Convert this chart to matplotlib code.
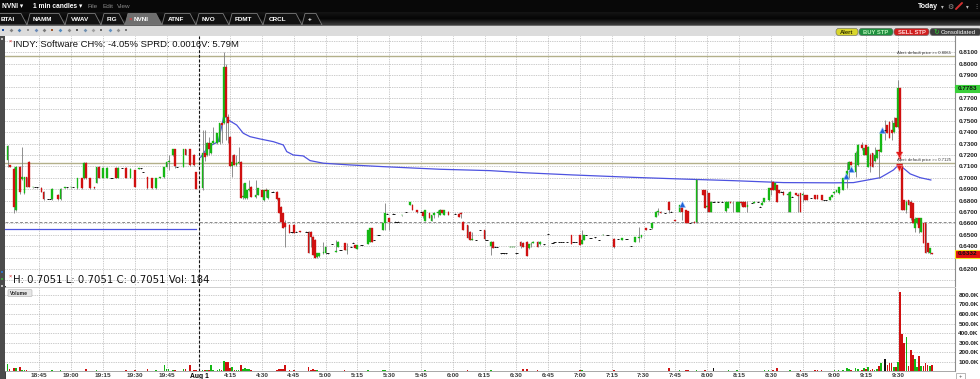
import numpy as np
import matplotlib
matplotlib.use("Agg")
import matplotlib.pyplot as plt
from matplotlib.patches import Rectangle, FancyBboxPatch, Polygon
from matplotlib.colors import LinearSegmentedColormap
import matplotlib.transforms as mtrans

# ============ DATA (1-minute candles, index = minute slot on the chart) ============
# previous-day after-hours 18:30-20:00  (slots 0..89)
PRE_T = [0,1,3,4,6,7,8,9,10, 12,13,14,16,17,19,20,21,24,25, 27,28,30,31,33,35,36,37,39,41,
         42,43,45,47,49,51,52,54,56,58, 60,62,63,64,66,68,70,72,74,75, 76,78,79,80,83,84,86,88,89]
PRE_O = [.7155,.7110,.7080,.6717,.7094,.6990,.6865,.7006,.7138,
         .6915,.6918,.6918,.6910,.6875,.6813,.6813,.6810,.6850,.6810,
         .6912,.6918,.6915,.6918,.6910,.6997,.6997,.7129,.6997,.6918,
         .6954,.7094,.6997,.6997,.6997,.7088,.6997,.7085,.7085,.7000,
         .7067,.7080,.7082,.7050,.7005,.6997,.6910,.6997,.7006,.7094,
         .7138,.7199,.7250,.7094,.7094,.7252,.7252,.7199,.7048]
PRE_H = [.7290,.7115,.7094,.7100,.7100,.7270,.7010,.7010,.7145,
         .6920,.6922,.6920,.6915,.6880,.6815,.6815,.6910,.6855,.6910,
         .6920,.6920,.6920,.6920,.7000,.7000,.7135,.7135,.7000,.6920,
         .7094,.7100,.7090,.7090,.7000,.7090,.7090,.7088,.7090,.7088,
         .7070,.7085,.7085,.7052,.7010,.7000,.6997,.7010,.7094,.7140,
         .7200,.7255,.7255,.7097,.7255,.7255,.7255,.7205,.7052]
PRE_L = [.7097,.7090,.6690,.6710,.6860,.6980,.6860,.6918,.6915,
         .6912,.6915,.6913,.6872,.6805,.6810,.6810,.6805,.6805,.6805,
         .6910,.6912,.6912,.6915,.6905,.6905,.6990,.6990,.6905,.6905,
         .6950,.6995,.6995,.6995,.6995,.6997,.6995,.7082,.6997,.6995,
         .6915,.7078,.7080,.7048,.6905,.6905,.6905,.6995,.7000,.7090,
         .7067,.7190,.7085,.7090,.7090,.7195,.7105,.7105,.6900]
PRE_C = [.7280,.7095,.6740,.7094,.6874,.7005,.7006,.6918,.6918,
         .6920,.6918,.6918,.6875,.6810,.6813,.6813,.6905,.6810,.6905,
         .6918,.6918,.6918,.6918,.6997,.6910,.7129,.6997,.6910,.6908,
         .7094,.6997,.7085,.7088,.6997,.7000,.7085,.7085,.7000,.7080,
         .6918,.7082,.7082,.7050,.6908,.6910,.6997,.7008,.7094,.7138,
         .7150,.7252,.7100,.7094,.7252,.7199,.7111,.7111,.6905]
PRE_V = [72,25,30,30,47,15,10,8,6,
         3,2,2,4,3,2,2,12,5,12,
         2,2,2,2,5,4,6,18,4,3,
         8,5,4,6,2,4,5,2,12,4,
         8,2,2,2,28,6,8,5,68,22,
         18,15,8,3,28,20,65,8,10]

# Aug 1, 4:00-6:00
AM_T = [92,93,94,95,96,97, 99,100,101,102,103,104,105,106,107,108,
        109,110,111,112,113,114,115,117,118,120, 121,122,123,125,127,128,129,130,131,133,
        134,135,136,138,141,142,143,144,145,146, 147,149,150,151,153,155,156,157,159,160]
AM_O = [.6907,.7214,.7200,.7302,.7214,.7302, .7302,.7310,.7477,.7477,.7974,.7535,.7360,.7100,.7200,.7112,
        .7127,.7141,.6830,.6820,.6820,.6893,.6922,.6834,.6849,.6893, .6805,.6893,.6820,.6878,.6878,.6820,.6746,.6688,.6600,.6585,
        .6520,.6585,.6527,.6530,.6527,.6527,.6527,.6483,.6453,.6307, .6310,.6336,.6336,.6336,.6419,.6351,.6394,.6366,.6425,.6366]
AM_H = [.7419,.7419,.7310,.7360,.7305,.7448, .7395,.7477,.7480,.8106,.8000,.7560,.7370,.7200,.7205,.7200,
        .7273,.7145,.6951,.6951,.6895,.6980,.6925,.6980,.6910,.6895, .6893,.6907,.6893,.6880,.6880,.6825,.6750,.6690,.6630,.6590,
        .6522,.6590,.6530,.6535,.6530,.6530,.6530,.6490,.6460,.6340, .6340,.6439,.6398,.6338,.6421,.6453,.6442,.6368,.6430,.6430]
AM_L = [.6893,.7150,.7190,.7200,.7210,.7300, .7300,.7300,.7302,.7470,.7331,.7302,.7097,.7009,.7110,.7105,
        .7120,.6820,.6815,.6815,.6815,.6880,.6834,.6820,.6845,.6834, .6800,.6834,.6815,.6875,.6805,.6688,.6615,.6556,.6394,.6512,
        .6518,.6512,.6525,.6520,.6525,.6336,.6394,.6321,.6292,.6300, .6305,.6330,.6330,.6334,.6417,.6345,.6390,.6364,.6366,.6330]
AM_C = [.7214,.7180,.7302,.7250,.7302,.7320, .7390,.7477,.7460,.7974,.7535,.7480,.7100,.7141,.7112,.7127,
        .7135,.6820,.6840,.6951,.6893,.6900,.6834,.6850,.6907,.6834, .6893,.6880,.6893,.6878,.6810,.6688,.6615,.6556,.6570,.6512,
        .6520,.6515,.6527,.6522,.6527,.6336,.6480,.6321,.6292,.6336, .6336,.6345,.6394,.6336,.6419,.6360,.6439,.6366,.6366,.6370]
AM_V = [15,10,15,12,65,15, 12,20,15,104,93,93,30,45,12,8,
        10,68,25,30,22,25,8,5,6,5, 6,4,5,2,10,20,18,20,68,15,
        3,10,3,5,3,47,15,20,12,10, 6,5,6,2,2,4,5,2,8,4]

# 6:00-8:30
MID_T = [162,163,164,165,167,170,171,172,173,175, 177,178,179,180,182,183,184,186,188,190,
         191,193,195,196,197,199,200,201,203,204, 205,206,208,211,213,214,215,217,218,219,
         221,223,225,226,228,229,230,231,233,234, 235,237,238,239,240,242,243,245,246,247,
         248,250,251,253,255,257,258,260,261,262, 264,266,267,268,270,271,272,273,275,277,
         279,281,283,286,288,290,292,294,296,298, 299,301,303,304,306,307,308,310,312,313, 315]
MID_O = [.6395,.6430,.6410,.6375,.6410,.6420,.6439,.6556,.6454,.6495,
         .6542,.6600,.6685,.6644,.6685,.6614,.6614,.6670,.6697,.6764,
         .6764,.6717,.6702,.6702,.6624,.6688,.6624,.6673,.6690,.6673,
         .6717,.6673,.6702,.6685,.6685,.6690,.6614,.6585,.6527,.6454,
         .6454,.6542,.6542,.6454,.6400,.6439,.6395,.6392,.6337,.6337,
         .6337,.6392,.6393,.6393,.6337,.6439,.6430,.6439,.6381,.6416,
         .6428,.6439,.6416,.6416,.6504,.6425,.6436,.6436,.6436,.6436,
         .6436,.6498,.6436,.6436,.6498,.6420,.6454,.6498,.6469,.6477,
         .6454,.6495,.6498,.6460,.6460,.6454,.6460,.6400,.6439,.6470,
         .6477,.6556,.6550,.6556,.6658,.6700,.6702,.6688,.6790,.6702, .6629]
MID_H = [.6397,.6432,.6412,.6412,.6412,.6545,.6556,.6560,.6456,.6497,
         .6603,.6776,.6687,.6646,.6687,.6616,.6616,.6675,.6699,.6790,
         .6766,.6720,.6704,.6705,.6720,.6690,.6676,.6702,.6717,.6722,
         .6720,.6720,.6705,.6687,.6688,.6700,.6617,.6588,.6530,.6527,
         .6456,.6544,.6545,.6456,.6442,.6442,.6397,.6394,.6339,.6339,
         .6339,.6397,.6397,.6397,.6339,.6442,.6432,.6442,.6418,.6439,
         .6441,.6441,.6441,.6418,.6506,.6427,.6438,.6438,.6438,.6438,
         .6438,.6500,.6438,.6438,.6500,.6542,.6500,.6500,.6471,.6479,
         .6456,.6502,.6500,.6469,.6462,.6471,.6462,.6402,.6480,.6571,
         .6500,.6558,.6552,.6603,.6705,.6732,.6705,.6690,.6796,.6704, .6631]
MID_L = [.6393,.6428,.6381,.6372,.6408,.6415,.6435,.6439,.6452,.6493,
         .6540,.6542,.6683,.6542,.6683,.6612,.6612,.6668,.6695,.6760,
         .6717,.6688,.6700,.6644,.6620,.6644,.6620,.6644,.6658,.6670,
         .6688,.6670,.6673,.6683,.6658,.6644,.6542,.6469,.6454,.6450,
         .6452,.6540,.6454,.6452,.6322,.6381,.6393,.6390,.6335,.6335,
         .6335,.6390,.6390,.6390,.6335,.6381,.6395,.6313,.6378,.6395,
         .6425,.6395,.6414,.6414,.6502,.6423,.6434,.6434,.6434,.6434,
         .6434,.6422,.6434,.6434,.6410,.6415,.6452,.6496,.6467,.6475,
         .6452,.6493,.6496,.6381,.6458,.6452,.6458,.6398,.6437,.6439,
         .6475,.6545,.6548,.6554,.6655,.6673,.6688,.6686,.6690,.6700, .6620]
MID_C = [.6395,.6430,.6381,.6410,.6410,.6542,.6556,.6439,.6454,.6495,
         .6600,.6688,.6685,.6614,.6685,.6614,.6614,.6673,.6697,.6785,
         .6717,.6700,.6702,.6660,.6717,.6644,.6673,.6690,.6700,.6720,
         .6688,.6717,.6673,.6685,.6658,.6680,.6542,.6469,.6454,.6460,
         .6454,.6542,.6460,.6454,.6439,.6381,.6395,.6392,.6337,.6337,
         .6337,.6395,.6395,.6395,.6337,.6400,.6395,.6313,.6416,.6420,
         .6439,.6395,.6439,.6416,.6504,.6425,.6436,.6436,.6436,.6436,
         .6436,.6422,.6436,.6436,.6410,.6450,.6498,.6498,.6469,.6477,
         .6454,.6500,.6498,.6395,.6460,.6469,.6460,.6400,.6477,.6480,
         .6498,.6545,.6550,.6600,.6702,.6710,.6688,.6688,.6717,.6702, .6620]
MID_V = [2,2,4,4,2,8,6,6,2,2, 15,10,2,5,2,2,2,3,2,5, 6,3,2,3,8,4,5,3,3,4,
         4,4,3,2,3,3,6,8,6,3, 2,2,3,2,8,4,2,2,2,2, 2,2,2,2,2,5,20,20,5,3,
         3,10,4,2,2,2,2,2,2,2, 2,5,2,2,10,8,4,2,2,2, 2,3,2,15,2,3,2,2,4,5,
         4,3,2,5,6,4,4,2,30,3, 5]

# 8:30-9:47
LATE_T = [317,318,320,321,322,324,325,328,329,330, 331,332,333,335,337,339,340,341,342,344,
          345,346,347,348,349,351,352,354,355,356, 357,359,360,361,362,363,364,365,366,368,
          369,370,372,373,374,375,376,377,379,381, 382,384,385,386,388,389,390,391,392,394,
          396,397,398,400,401,403,404,405,406,407, 408,409,410,411,412,414,415,416,417,418,
          419,420,421,422,423,424,425,426,427,428, 429,430,431,432,433,434,435,436]
LATE_O = [.6702,.6761,.6717,.6705,.6605,.6614,.6614,.6893,.6893,.6740,
          .6863,.6702,.6790,.6790,.6790,.6705,.6732,.6790,.6775,.6702,
          .6702,.6790,.6790,.6790,.6746,.6776,.6776,.6790,.6746,.6761,
          .6790,.6805,.6907,.6965,.6893,.6936,.6893,.6878,.6878,.6850,
          .6702,.6834,.6863,.6850,.6863,.6849,.6849,.6849,.6820,.6849,
          .6849,.6849,.6805,.6805,.6805,.6834,.6863,.6878,.6863,.6893,
          .6995,.7067,.7141,.7053,.7112,.7287,.7199,.7287,.7097,.7200,
          .7214,.7150,.7170,.7243,.7229,.7420,.7462,.7492,.7420,.7400,
          .7521,.7448,.7785,.7100,.6805,.6717,.6805,.6790,.6776,.6560,
          .6600,.6644,.6527,.6600,.6600,.6425,.6337,.6340]
LATE_H = [.6763,.6770,.6720,.6710,.6607,.6616,.6985,.6895,.6895,.6893,
          .6865,.6792,.6792,.6792,.6792,.6792,.6792,.6792,.6792,.6792,
          .6792,.6792,.6792,.6792,.6792,.6778,.6792,.6792,.6748,.6792,
          .6822,.6910,.6980,.6968,.6952,.6940,.6895,.6880,.6880,.6878,
          .6880,.6836,.6865,.6863,.6865,.6878,.6851,.6851,.6822,.6851,
          .6851,.6851,.6807,.6807,.6836,.6851,.6880,.6895,.6918,.6998,
          .7141,.7145,.7145,.7230,.7300,.7310,.7260,.7290,.7275,.7214,
          .7216,.7273,.7245,.7250,.7406,.7506,.7465,.7495,.7506,.7535,
          .7525,.7857,.7790,.7127,.6808,.6805,.6808,.6805,.6780,.6658,
          .6646,.6650,.6646,.6605,.6605,.6430,.6383,.6342]
LATE_L = [.6700,.6629,.6600,.6600,.6603,.6600,.6600,.6849,.6732,.6702,
          .6702,.6700,.6788,.6788,.6788,.6700,.6730,.6775,.6702,.6700,
          .6700,.6761,.6746,.6746,.6702,.6774,.6774,.6788,.6744,.6760,
          .6788,.6800,.6849,.6893,.6890,.6790,.6863,.6876,.6849,.6702,
          .6700,.6832,.6849,.6702,.6702,.6790,.6805,.6805,.6818,.6812,
          .6812,.6805,.6803,.6803,.6803,.6832,.6860,.6876,.6860,.6890,
          .6907,.7000,.7112,.7009,.7105,.7240,.7195,.7199,.7095,.7053,
          .7097,.7141,.7168,.6995,.7225,.7331,.7390,.7346,.7331,.7390,
          .7448,.7440,.7150,.6717,.6717,.6688,.6761,.6629,.6600,.6527,
          .6598,.6512,.6525,.6425,.6337,.6337,.6335,.6330]
LATE_C = [.6761,.6700,.6600,.6600,.6605,.6600,.6980,.6849,.6732,.6750,
          .6702,.6790,.6790,.6790,.6790,.6790,.6790,.6775,.6780,.6790,
          .6790,.6775,.6746,.6746,.6760,.6776,.6790,.6790,.6746,.6775,
          .6820,.6907,.6890,.6893,.6950,.6790,.6863,.6878,.6849,.6860,
          .6878,.6834,.6849,.6840,.6702,.6860,.6805,.6805,.6820,.6812,
          .6812,.6805,.6805,.6805,.6834,.6849,.6878,.6893,.6916,.6995,
          .7060,.7141,.7112,.7214,.7287,.7260,.7258,.7199,.7273,.7100,
          .7097,.7200,.7243,.7230,.7404,.7420,.7390,.7346,.7390,.7480,
          .7448,.7785,.7160,.6720,.6717,.6790,.6761,.6650,.6600,.6640,
          .6644,.6560,.6644,.6425,.6337,.6350,.6381,.6332]
LATE_V = [8,6,10,12,3,5,10,6,8,5, 6,5,37,3,2,6,15,5,3,8, 6,3,5,5,3,2,3,2,2,3,
          15,15,5,8,6,37,5,2,5,4, 8,2,5,4,10,4,5,5,2,8, 15,8,2,2,6,5,8,6,10,15,
          35,20,12,35,25,12,30,20,40,15, 20,10,25,55,83,125,70,90,90,40,
          40,100,834,390,293,362,55,222,170,128, 40,160,55,55,90,70,55,65]

# VWAP lines
VWAP_PRE_T = [-1, 89]
VWAP_PRE_P = [0.6551, 0.6551]
VWAP_T = [91.1, 94.7, 99.4, 101, 102.1, 104.2, 108.1, 111.2, 114.4, 119.1, 125.4, 130.1, 131.7,
          134.8, 139.5, 142.7, 149, 161.5, 177.2, 204, 227.6, 243.3, 266.9, 295.2, 317.2, 342.4,
          366, 389.6, 399, 411.6, 414.7, 417.9, 420.2, 422.6, 425.8, 430.5, 435.5]
VWAP_P = [0.7179, 0.7272, 0.7316, 0.7448, 0.7550, 0.7506, 0.7462, 0.7390, 0.7360, 0.7340, 0.7316,
          0.7287, 0.7229, 0.7199, 0.7191, 0.7150, 0.7127, 0.7112, 0.7097, 0.7074, 0.7062, 0.7044,
          0.7024, 0.7003, 0.6989, 0.6974, 0.6957, 0.6955, 0.6957, 0.7000, 0.7033, 0.7068, 0.7112,
          0.7083, 0.7033, 0.7000, 0.6980]

BUY_T = [318.2, 395.7, 397.9, 412.5]
BUY_P = [0.6770, 0.7011, 0.7072, 0.7415]
SELL_T = [420.6, 420.6]
SELL_P = [0.7195, 0.7085]

ALERT_LEVELS = [0.8065, 0.7125]
PREV_CLOSE = 0.6612
HIGH_MARK = 0.7783
LAST_PRICE = 0.6332
SESSION_BREAK = 90.5

TICK_POS = [15, 30, 45, 60, 75, SESSION_BREAK] + list(range(105, 421, 15))
TICK_LAB = ["18:45", "19:00", "19:15", "19:30", "19:45", "Aug 1",
            "4:15", "4:30", "4:45", "5:00", "5:15", "5:30", "5:45", "6:00", "6:15", "6:30", "6:45",
            "7:00", "7:15", "7:30", "7:45", "8:00", "8:15", "8:30", "8:45", "9:00", "9:15", "9:30"]
PRICE_GRID = [round(0.61 + 0.01 * k, 2) for k in range(22)]
PRICE_HIDDEN = [0.61, 0.82, 0.78, 0.63]
VOL_TICKS = [100, 200, 300, 400, 500, 600, 700, 800]

TABS = ["BTAI", "NAMM", "VWAV", "FIG", "NVNI", "ATNF", "NVO", "FDMT", "CRCL", "+"]
ACTIVE_TAB = "NVNI"
TITLE = "INDY: Software CH%: -4.05% SPRD: 0.0016V: 5.79M"
HLC = "H: 0.7051 L: 0.7051 C: 0.7051 Vol: 184"

# ============ assemble ============
T = np.array(PRE_T + AM_T + MID_T + LATE_T, float)
O = np.array(PRE_O + AM_O + MID_O + LATE_O)
HI = np.array(PRE_H + AM_H + MID_H + LATE_H)
LO = np.array(PRE_L + AM_L + MID_L + LATE_L)
CL = np.array(PRE_C + AM_C + MID_C + LATE_C)
VOL = np.array(PRE_V + AM_V + MID_V + LATE_V, float)
assert len(T) == len(O) == len(HI) == len(LO) == len(CL) == len(VOL)

GREEN = "#14b814"
RED = "#d01010"
WICK = "#7c7c7c"
GRID = "#a9a9a9"

W, H = 980, 379
fig = plt.figure(figsize=(W / 100, H / 100), dpi=100)
fig.patch.set_facecolor("white")


def rect(x0, y0, x1, y1):
    return [x0 / W, 1 - y1 / H, (x1 - x0) / W, (y1 - y0) / H]


SANS = ["Liberation Sans", "DejaVu Sans"]

# ---------------- window chrome ----------------
bg = fig.add_axes([0, 0, 1, 1], zorder=0)
bg.add_patch(Rectangle((0, 0), W, 12, color="#080808", lw=0))
tabgrad = LinearSegmentedColormap.from_list("tg", ["#141414", "#050505", "#3a3a3a"])
bg.imshow(np.linspace(0, 1, 20)[:, None], extent=(0, W, 25, 12), cmap=tabgrad, aspect="auto")
bg.add_patch(Rectangle((0, 25), W, 11, color="#dcdcdc", lw=0))
bg.plot([0, W], [25.3, 25.3], color="#555555", lw=0.6)

bg.text(2, 6.2, "NVNI \u25BE", color="white", fontsize=4.8, fontweight="bold", va="center", family=SANS)
bg.text(33, 6.2, "1 min candles \u25BE", color="white", fontsize=4.8, fontweight="bold", va="center", family=SANS)
for lab, x in [("File", 87), ("Edit", 102), ("View", 117)]:
    bg.text(x, 6.2, lab, color="#8a8a8a", fontsize=4.6, va="center", family=SANS)
bg.text(918, 6.2, "Today", color="white", fontsize=5.0, fontweight="bold", va="center", family=SANS)
bg.text(941, 6.2, "\u25BE", color="#bbbbbb", fontsize=4, va="center", family=SANS)
bg.text(947, 6.4, "\u2699", color="#999999", fontsize=5, va="center", family=["DejaVu Sans"])
bg.plot([956, 962], [9, 3], color="#d23030", lw=1.4, solid_capstyle="round")
bg.text(966, 6.2, "\u25BE", color="#bbbbbb", fontsize=4, va="center", family=SANS)
bg.text(973, 6.2, "\u22EE", color="#bbbbbb", fontsize=4.5, va="center", family=["DejaVu Sans"])

tab_edges = [-6, 27, 65, 101, 125, 162, 196, 229, 263, 302, 322]
for k, name in enumerate(TABS):
    x0, x1 = tab_edges[k], tab_edges[k + 1]
    act = name == ACTIVE_TAB
    bg.add_patch(Polygon([(x0, 25), (x0 + 3, 13.5), (x1 - 6, 13.5), (x1, 25)], closed=True,
                         facecolor="#6f6f6f" if act else "#111111", edgecolor="#7a7a7a", lw=0.6))
    tx = x0 + 6 if k > 0 else 1
    if act:
        bg.text(tx - 2, 19.6, "\u00D7", color="#ff3030", fontsize=4.5, va="center", family=SANS)
        tx += 2.5
    bg.text(tx, 19.6, name, color="white", fontsize=4.6, fontweight="bold", va="center", family=SANS)

icon_cols = ["#2050a0", "#808080", "#4a7ab0", "#909090", "#6a8ab8", "#7a7a7a", "#a05a30", "#508ac0",
             "#8a8a8a", "#5a5a5a", "#7090b0", "#a0a0a0", "#6a6a6a", "#6090c0", "#909090", "#7a7a7a"]
for k, c in enumerate(icon_cols):
    bg.plot(3 + 8.2 * k, 29.8, marker="s" if k % 3 == 0 else "D", ms=1.9, color=c, mew=0)

buttons = [(836, 858, "Alert", "#d9d62c", "#333300"), (859, 893, "BUY STP", "#1f8f3f", "#b8f0b8"),
           (894, 929, "SELL STP", "#cf1f1f", "#ffd8d8"), (930, 981, "Consolidated", "#3c3c3c", "white")]
for x0, x1, lab, fc, tc in buttons:
    bg.add_patch(FancyBboxPatch((x0, 28.3), x1 - x0, 7.2, boxstyle="round,pad=0,rounding_size=3",
                                facecolor=fc, edgecolor="#666666", lw=0.4))
    if lab == "Consolidated":
        bg.text(933, 32, "\u21BB", color="#30d030", fontsize=5, va="center", family=["DejaVu Sans"])
        bg.text(941, 32, lab, color=tc, fontsize=4.3, va="center", family=SANS)
    else:
        bg.text((x0 + x1) / 2, 32, lab, color=tc, fontsize=4.2, fontweight="bold", va="center",
                ha="center", family=SANS)

bg.add_patch(Rectangle((0, 36), 5, H - 36, color="#4b4b4b", lw=0))
bg.plot([4.6, 4.6], [36, H], color="#1a1a1a", lw=0.6)
for yy, c in [(39, "#c0c0c0"), (272, "#3070c0"), (279, "#40a040"), (286, "#c0c0c0")]:
    bg.plot(2.3, yy, marker="s", ms=2, color=c, mew=0)
bg.plot([5, 955], [286.6, 286.6], color="#c8c8c8", lw=0.6)
bg.plot([5, 955], [287.9, 287.9], color="#c8c8c8", lw=0.6)
bg.set_xlim(0, W)
bg.set_ylim(H, 0)
bg.axis("off")


# ---------------- price panel ----------------
def style_axis(ax):
    ax.set_facecolor("white")
    for s in ("top", "left", "bottom"):
        ax.spines[s].set_visible(False)
    ax.spines["right"].set_color("#8c8c8c")
    ax.spines["right"].set_linewidth(0.8)
    ax.grid(True, color=GRID, ls=(0, (1, 1.3)), lw=0.55)
    ax.set_axisbelow(True)


axp = fig.add_axes(rect(5, 36, 955, 286), zorder=1)
style_axis(axp)
axp.set_xlim(-1.18, 446.9)
axp.set_ylim(0.6050, 0.8243)
axp.set_xticks(TICK_POS)
axp.set_yticks(PRICE_GRID)
axp.set_yticklabels(["" if any(abs(p - h) < 1e-6 for h in PRICE_HIDDEN) else "%.4f" % p for p in PRICE_GRID])
axp.yaxis.tick_right()
axp.tick_params(axis="x", length=0, labelbottom=False)
axp.tick_params(axis="y", length=0, pad=2.4, labelsize=4.6, labelcolor="#222222")
for lbl in axp.get_yticklabels():
    lbl.set_fontweight("bold")
    lbl.set_family(SANS)

for lvl in ALERT_LEVELS:
    axp.axhline(lvl, color="#b3b08a", lw=1.0, zorder=2)
    tr = mtrans.offset_copy(axp.get_yaxis_transform(), fig=fig, x=-2, y=1.2, units="points")
    axp.text(0.999, lvl, "Alert: default price >= %.4f" % lvl, transform=tr, ha="right", va="bottom",
             fontsize=3.1, color="#333333", family=SANS, zorder=2)
axp.axhline(PREV_CLOSE, color="#8a8a8a", ls=(0, (3, 2)), lw=0.7, zorder=2)
axp.axvline(SESSION_BREAK, color="#111111", ls=(0, (2.6, 1.6)), lw=0.8, zorder=2)

axp.plot(VWAP_PRE_T, VWAP_PRE_P, color="#4d52e0", lw=0.9, zorder=3)
axp.plot(VWAP_T, VWAP_P, color="#4d52e0", lw=0.9, zorder=3)

up = CL > O
dn = CL < O
eq = ~(up | dn)
axp.vlines(T, LO, HI, colors=WICK, lw=0.6, zorder=4)
axp.bar(T[up], (CL - O)[up], bottom=O[up], width=0.85, color=GREEN, edgecolor=GREEN, lw=0.25, zorder=5)
axp.bar(T[dn], (CL - O)[dn], bottom=O[dn], width=0.85, color=RED, edgecolor=RED, lw=0.25, zorder=5)
axp.hlines(O[eq], T[eq] - 0.55, T[eq] + 0.55, colors="#151515", lw=0.7, zorder=5)

axp.plot(BUY_T, BUY_P, ls="none", marker="^", ms=4.6, color="#1f64d8", mec="#9fc4ff", mew=0.4, zorder=6)
axp.plot(SELL_T, SELL_P, ls="none", marker="v", ms=4.6, color="#e01818", mec="#ff9a9a", mew=0.4, zorder=6)
axp.plot(SELL_T, [p + 0.0032 for p in SELL_P], ls="none", marker="_", ms=4.0, color="#e01818", mew=1.0, zorder=6)

ytr = axp.get_yaxis_transform()
for price, fc, ec in [(HIGH_MARK, "#3ad03a", "#3ad03a"), (LAST_PRICE, "#e01010", "#f0e020")]:
    hh = 7.5 / 1140
    axp.add_patch(Rectangle((1.0005, price - hh / 2), 25.5 / 950, hh, transform=ytr, clip_on=False,
                            facecolor=fc, edgecolor=ec, lw=0.8, zorder=7))
    axp.text(1.0 + 3.0 / 950, price, "%.4f" % price, transform=ytr, va="center", ha="left",
             fontsize=4.6, fontweight="bold", color="#111111", family=SANS, clip_on=False, zorder=8)

# ---------------- volume panel ----------------
axv = fig.add_axes(rect(5, 288, 955, 371.2), zorder=1)
style_axis(axv)
axv.spines["bottom"].set_visible(True)
axv.spines["bottom"].set_color("#9a9a9a")
axv.spines["bottom"].set_linewidth(0.6)
axv.set_xlim(-1.18, 446.9)
axv.set_ylim(0, 873)
axv.set_yticks(VOL_TICKS)
axv.set_yticklabels(["%.1fK" % v for v in VOL_TICKS])
axv.yaxis.tick_right()
axv.set_xticks(TICK_POS)
axv.set_xticklabels(TICK_LAB)
axv.tick_params(axis="y", length=0, pad=2.4, labelsize=4.6, labelcolor="#222222")
axv.tick_params(axis="x", length=0, pad=1.4, labelsize=4.6, labelcolor="#3a3a3a")
for lbl in axv.get_yticklabels() + axv.get_xticklabels():
    lbl.set_fontweight("bold")
    lbl.set_family(SANS)
for lbl in axv.get_xticklabels():
    if lbl.get_text() == "Aug 1":
        lbl.set_color("#000000")
        lbl.set_fontsize(4.9)
axv.axvline(SESSION_BREAK, color="#111111", ls=(0, (2.6, 1.6)), lw=0.8, zorder=2)
vcol = np.where(up, GREEN, np.where(dn, RED, "#111111"))
axv.bar(T, VOL, width=0.8, color=vcol, lw=0, zorder=4)

# ---------------- overlay texts ----------------
ov = fig.add_axes([0, 0, 1, 1], zorder=10)
ov.set_xlim(0, W)
ov.set_ylim(H, 0)
ov.axis("off")
ov.patch.set_alpha(0)
ov.text(8.6, 41.3, "\u00D7", color="#d01010", fontsize=4.0, va="center", family=SANS)
ov.text(12.5, 44.6, TITLE, color="#111111", fontsize=6.8, va="center", family=SANS)
ov.text(8.6, 276.2, "\u00D7", color="#d01010", fontsize=4.0, va="center", family=SANS)
ov.text(12.5, 279.6, HLC, color="#111111", fontsize=7.25, va="center", family=["DejaVu Sans"])
ov.add_patch(FancyBboxPatch((8, 289.6), 24, 7, boxstyle="round,pad=0,rounding_size=1.2",
                            facecolor="#e6e6e6", edgecolor="#b0b0b0", lw=0.4))
ov.text(10, 293.2, "Volume", color="#222222", fontsize=3.6, fontweight="bold", va="center", family=SANS)
ov.add_patch(Rectangle((956, 372.5), 9, 6.5, facecolor="white", edgecolor="#9a9a9a", lw=0.5))
ov.text(960.5, 376, "+", color="#444444", fontsize=4.2, va="center", ha="center", family=SANS)

fig.savefig("out.png", dpi=100)
